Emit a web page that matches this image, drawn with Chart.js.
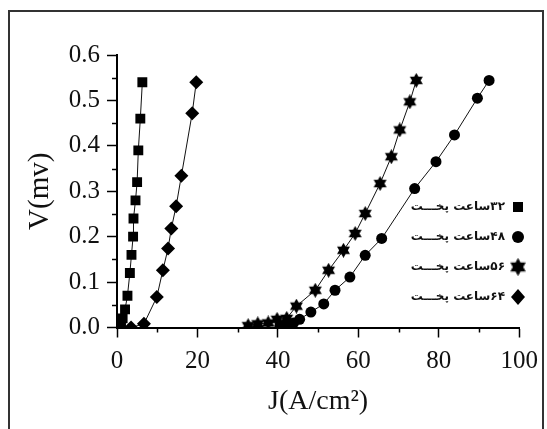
<!DOCTYPE html>
<html>
<head>
<meta charset="utf-8">
<script src="https://cdn.jsdelivr.net/npm/chart.js@4/dist/chart.umd.min.js"></script>
<style>
  body { margin: 0; background: #fff; }
  #wrap { position: relative; width: 547px; height: 429px; overflow: hidden; }
  #frame { position: absolute; left: 8px; top: 10px; width: 536px; height: 440px;
           border: 2px solid #333; box-sizing: border-box; }
  #plot { position: absolute; left: 0; top: 0; }
</style>
</head>
<body>
<div id="wrap">
  <div id="frame"></div>
  <canvas id="plot" width="547" height="429"></canvas>
</div>
<script>
// series data: J (A/cm2) and V (mv)
const labels32 = "۳۲ساعت پخـــت";
const labels48 = "۴۸ساعت پخـــت";
const labels56 = "۵۶ساعت پخـــت";
const labels64 = "۶۴ساعت پخـــت";

const j32 = [0.5, 1.0, 1.4, 2.0, 2.6, 3.2, 3.6, 4.0, 4.1, 4.6, 5.0, 5.3, 5.8, 6.3];
const v32 = [0.0, 0.01, 0.02, 0.04, 0.07, 0.12, 0.16, 0.2, 0.24, 0.28, 0.32, 0.39, 0.46, 0.54];

const j48 = [40.5, 42.2, 43.9, 45.4, 48.2, 51.4, 54.2, 57.9, 61.7, 65.8, 74.0, 79.3, 83.9, 89.6, 92.5];
const v48 = [0.004, 0.008, 0.01, 0.018, 0.034, 0.052, 0.082, 0.111, 0.159, 0.196, 0.306, 0.365, 0.424, 0.505, 0.544];

const j56 = [32.6, 35.0, 37.6, 39.8, 42.2, 44.6, 49.3, 52.6, 56.3, 59.2, 61.7, 65.4, 68.2, 70.3, 72.8, 74.4];
const v56 = [0.004, 0.008, 0.01, 0.018, 0.02, 0.047, 0.082, 0.126, 0.17, 0.207, 0.251, 0.317, 0.376, 0.435, 0.497, 0.544];

const j64 = [3.5, 6.7, 9.9, 11.4, 12.7, 13.5, 14.7, 16.0, 18.7, 19.7];
const v64 = [0.0, 0.008, 0.067, 0.126, 0.174, 0.218, 0.267, 0.334, 0.472, 0.54];

const xMinorTicks = [10, 30, 50, 70, 90];
const yMinorTicks = [0.05, 0.15, 0.25, 0.35, 0.45, 0.55];

function toPoints(xs, ys) {
    return xs.map((x, i) => ({ x: x, y: ys[i] }));
}

// filled six point star for the 56h series
function makeStar(size) {
    let c = document.createElement("canvas");
    c.width = size; c.height = size;
    let g = c.getContext("2d");
    let r = size / 2, ri = r / Math.sqrt(3);
    g.fillStyle = "#000";
    g.beginPath();
    for (let i = 0; i < 12; i++) {
        let a = -Math.PI / 2 + i * Math.PI / 6;
        let rr = i % 2 === 0 ? r : ri;
        let px = r + rr * Math.cos(a), py = r + rr * Math.sin(a);
        if (i === 0) g.moveTo(px, py); else g.lineTo(px, py);
    }
    g.closePath();
    g.fill();
    return c;
}
const starImg = makeStar(15);

const serif = "'Liberation Serif', 'Times New Roman', serif";

function series(label, xs, ys, style, radius) {
    return {
        label: label,
        data: toPoints(xs, ys),
        showLine: true,
        borderColor: "#111",
        borderWidth: 1,
        backgroundColor: "#000",
        pointBackgroundColor: "#000",
        pointBorderColor: "#000",
        pointBorderWidth: 0,
        pointStyle: style,
        pointRadius: radius,
        pointHoverRadius: radius
    };
}

// minor ticks + legend inside the plot
const extras = {
    id: "extras",
    afterDraw(chart) {
        let ctx = chart.ctx;
        let xs = chart.scales.x, ys = chart.scales.y;
        let area = chart.chartArea;
        ctx.save();
        ctx.strokeStyle = "#000";
        ctx.lineWidth = 1.5;
        xMinorTicks.forEach(v => {
            let px = Math.round(xs.getPixelForValue(v)) + 0.5;
            ctx.beginPath(); ctx.moveTo(px, area.bottom); ctx.lineTo(px, area.bottom + 5); ctx.stroke();
        });
        yMinorTicks.forEach(v => {
            let py = Math.round(ys.getPixelForValue(v)) + 0.5;
            ctx.beginPath(); ctx.moveTo(area.left, py); ctx.lineTo(area.left - 5, py); ctx.stroke();
        });

        // legend
        let items = chart.data.datasets;
        let textRight = 505, markX = 518, y0 = 207, step = 30;
        ctx.font = "bold 12px 'DejaVu Sans'";
        ctx.fillStyle = "#111";
        ctx.textAlign = "right";
        ctx.textBaseline = "middle";
        ctx.direction = "rtl";
        items.forEach((ds, i) => {
            let y = y0 + i * step;
            ctx.fillText(ds.label, textRight, y);
            ctx.fillStyle = "#000";
            ctx.beginPath();
            if (ds.pointStyle === "rect") {
                ctx.rect(markX - 5, y - 5, 10, 10);
                ctx.fill();
            } else if (ds.pointStyle === "circle") {
                ctx.arc(markX, y, 6, 0, Math.PI * 2);
                ctx.fill();
            } else if (ds.pointStyle === "rectRot") {
                ctx.moveTo(markX, y - 8); ctx.lineTo(markX + 7, y);
                ctx.lineTo(markX, y + 8); ctx.lineTo(markX - 7, y);
                ctx.closePath(); ctx.fill();
            } else {
                ctx.drawImage(starImg, markX - 9, y - 9, 18, 18);
            }
            ctx.fillStyle = "#111";
        });
        ctx.restore();
    }
};

document.addEventListener("DOMContentLoaded", function () {
    let ctx = document.getElementById("plot").getContext("2d");
    new Chart(ctx, {
        type: "scatter",
        data: {
            datasets: [
                series(labels32, j32, v32, "rect", 7),
                series(labels48, j48, v48, "circle", 5.5),
                series(labels56, j56, v56, starImg, 7),
                series(labels64, j64, v64, "rectRot", 7)
            ]
        },
        options: {
            responsive: false,
            animation: false,
            layout: { padding: { left: 0, right: 24, top: 55, bottom: 0 } },
            plugins: {
                legend: { display: false },
                tooltip: { enabled: false }
            },
            scales: {
                x: {
                    type: "linear",
                    min: 0, max: 100,
                    afterFit: s => { s.height = 101.5; },
                    border: { display: true, color: "#000", width: 2 },
                    grid: { drawOnChartArea: false, drawTicks: true, tickLength: 10, tickColor: "#000", tickWidth: 1.5 },
                    ticks: { stepSize: 20, color: "#111", padding: 9, font: { family: serif, size: 25 } },
                    title: { display: true, text: "J(A/cm²)", color: "#111",
                             font: { family: serif, size: 28 }, padding: { top: 0, bottom: 11 } }
                },
                y: {
                    type: "linear",
                    min: 0, max: 0.6,
                    afterFit: s => { s.width = 117; },
                    border: { display: true, color: "#000", width: 2 },
                    grid: { drawOnChartArea: false, drawTicks: true, tickLength: 10, tickColor: "#000", tickWidth: 1.5 },
                    ticks: { stepSize: 0.1, color: "#111", padding: 7, font: { family: serif, size: 25 },
                             callback: v => Number(v).toFixed(1) },
                    title: { display: true, text: "V(mv)", color: "#111",
                             font: { family: serif, size: 29 }, padding: { top: 23, bottom: 0 } }
                }
            }
        },
        plugins: [extras]
    });
});
</script>
</body>
</html>
